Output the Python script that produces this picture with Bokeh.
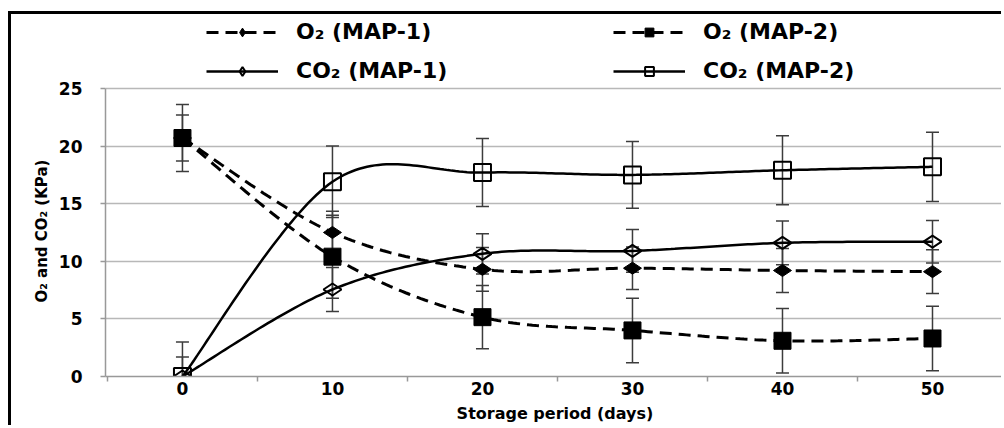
import numpy as np
from bokeh.plotting import figure
from bokeh.models import Legend, LegendItem, FixedTicker, Range1d, Title
from bokeh.embed import file_html
from bokeh.resources import INLINE

# ---- data ----
days = [0, 10, 20, 30, 40, 50]
o2_map1 = [20.7, 12.5, 9.3, 9.4, 9.2, 9.1]
o2_map2 = [20.7, 10.4, 5.15, 4.0, 3.1, 3.3]
co2_map1 = [0.0, 7.55, 10.65, 10.9, 11.6, 11.7]
co2_map2 = [0.0, 16.9, 17.7, 17.5, 17.9, 18.2]

o2_map1_err = [2.0, 1.85, 1.9, 1.85, 1.9, 1.9]
o2_map2_err = [2.9, 3.6, 2.75, 2.8, 2.8, 2.8]
co2_map1_err = [1.7, 1.9, 1.75, 1.85, 1.9, 1.85]
co2_map2_err = [3.0, 3.1, 2.95, 2.9, 3.0, 3.0]

x_ticks = [0, 10, 20, 30, 40, 50]
y_ticks = [0, 5, 10, 15, 20, 25]
labels = ["O₂ (MAP-1)", "O₂ (MAP-2)", "CO₂ (MAP-1)", "CO₂ (MAP-2)"]
x_title = "Storage period (days)"
y_title = "O₂ and CO₂ (KPa)"


def smooth(xs, ys, n=40):
    """Excel-like smoothed line: cubic Bezier segments with Catmull-Rom control points."""
    P = np.column_stack([np.asarray(xs, float), np.asarray(ys, float)])
    Pp = np.vstack([P[:1], P, P[-1:]])
    t = np.linspace(0, 1, n)[:, None]
    pts = []
    for i in range(len(P) - 1):
        p0, p3 = P[i], P[i + 1]
        c1 = p0 + (Pp[i + 2] - Pp[i]) / 6.0
        c2 = p3 - (Pp[i + 3] - Pp[i + 1]) / 6.0
        seg = ((1 - t) ** 3) * p0 + 3 * ((1 - t) ** 2) * t * c1 + 3 * (1 - t) * t ** 2 * c2 + t ** 3 * p3
        pts.append(seg if i == 0 else seg[1:])
    pts = np.vstack(pts)
    return pts[:, 0], pts[:, 1]


FONT = "DejaVu Sans"
GRID = "#b8b8b8"
ERR = "#3c3c3c"

# the frame extends above 25 to hold the legend; the y axis itself is bounded to 0..25
p = figure(width=993, height=414, output_backend="svg", toolbar_location=None,
           x_range=Range1d(-5.13, 54.8), y_range=Range1d(0, 31.42),
           min_border_left=94, min_border_right=0, min_border_top=0, min_border_bottom=52)
p.styles = {"margin-left": "8px", "margin-top": "11px",
            "border-top": "3px solid black", "border-left": "3px solid black"}
p.outline_line_color = None
p.background_fill_color = "white"
p.border_fill_color = "white"

# axes
p.xaxis.ticker = FixedTicker(ticks=x_ticks, minor_ticks=[-5, 5, 15, 25, 35, 45, 55])
p.xaxis.major_tick_line_color = None
p.xaxis.major_tick_out = 0
p.xaxis.major_tick_in = 0
p.xaxis.minor_tick_out = 5
p.xaxis.minor_tick_in = 0
p.xaxis.minor_tick_line_color = "#999999"
p.xaxis.minor_tick_line_width = 1.5
p.xaxis.axis_line_color = "#999999"
p.xaxis.axis_line_width = 1.5
p.xaxis.major_label_standoff = 0
p.xaxis.axis_label = x_title
p.xaxis.axis_label_standoff = 6

p.yaxis.ticker = FixedTicker(ticks=y_ticks)
p.yaxis.bounds = (0, 25)
p.yaxis.minor_tick_line_color = None
p.yaxis.major_tick_out = 5
p.yaxis.major_tick_in = 0
p.yaxis.major_tick_line_color = "#999999"
p.yaxis.major_tick_line_width = 1.5
p.yaxis.axis_line_color = "#999999"
p.yaxis.axis_line_width = 1.5
p.yaxis.major_label_standoff = 18

for ax in (p.xaxis, p.yaxis):
    ax.major_label_text_font = FONT
    ax.major_label_text_font_style = "bold"
    ax.major_label_text_font_size = "17px"
    ax.major_label_text_color = "black"
    ax.axis_label_text_font = FONT
    ax.axis_label_text_font_style = "bold"
    ax.axis_label_text_color = "black"
p.xaxis.axis_label_text_font_size = "16px"

# y axis title, placed along the 0..25 span rather than centred on the whole frame
yt = Title(text=y_title, align="left", offset=74, standoff=9,
           text_font=FONT, text_font_style="bold", text_font_size="15px",
           text_color="black")
p.add_layout(yt, "left")

p.xgrid.grid_line_color = None
p.ygrid.grid_line_color = GRID
p.ygrid.grid_line_width = 1.5

series = [
    (o2_map1, o2_map1_err, "dashed", "diamond", 18, np.pi / 2, "black"),
    (o2_map2, o2_map2_err, "dashed", "square", 17, 0, "black"),
    (co2_map1, co2_map1_err, "solid", "diamond", 18, np.pi / 2, None),
    (co2_map2, co2_map2_err, "solid", "square", 17, 0, None),
]

# error bars
for vals, errs, *_ in series:
    up = [v + e for v, e in zip(vals, errs)]
    lo = [v - e for v, e in zip(vals, errs)]
    p.segment(x0=days, y0=lo, x1=days, y1=up, line_color=ERR, line_width=1.5)
    p.scatter(x=days, y=up, marker="dash", size=13, line_color=ERR, line_width=1.5)
    p.scatter(x=days, y=lo, marker="dash", size=13, line_color=ERR, line_width=1.5)

items = []
for (vals, errs, style, marker, size, ang, fill), lab in zip(series, labels):
    sx, sy = smooth(days, vals)
    dash = "12 7" if style == "dashed" else "solid"
    lw = 3 if style == "dashed" else 2.5
    lr = p.line(sx, sy, line_color="black", line_width=lw, line_dash=dash)
    if fill:
        mr = p.scatter(days, vals, marker=marker, size=size, angle=ang,
                       fill_color=fill, line_color="black", line_width=1)
    else:
        mr = p.scatter(days, vals, marker=marker, size=size, angle=ang,
                       fill_alpha=0, line_color="black", line_width=2)
    items.append(LegendItem(label=lab, renderers=[lr, mr]))


def make_legend(its, loc):
    lg = Legend(items=its, location=loc, orientation="vertical")
    lg.label_text_font = FONT
    lg.label_text_font_style = "bold"
    lg.label_text_font_size = "22px"
    lg.label_text_color = "black"
    lg.glyph_width = 72
    lg.glyph_height = 22
    lg.label_height = 22
    lg.label_standoff = 18
    lg.spacing = 14
    lg.padding = 0
    lg.margin = 0
    lg.border_line_color = None
    lg.background_fill_alpha = 0
    return lg


p.add_layout(make_legend([items[0], items[2]], (101, 293)))
p.add_layout(make_legend([items[1], items[3]], (508, 293)))

open("out.html", "w").write(file_html(p, INLINE))
